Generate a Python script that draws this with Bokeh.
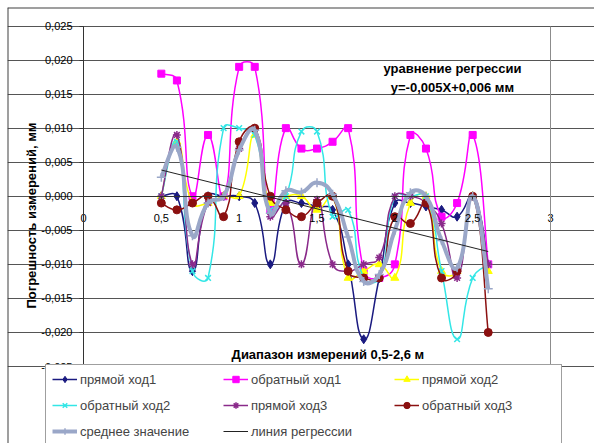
from bokeh.plotting import figure
from bokeh.models import (FixedTicker, CustomJSTickFormatter, Label, Legend,
                          LegendItem, ColumnDataSource, Range1d, LinearAxis)
from bokeh.embed import file_html
from bokeh.resources import INLINE

# ---------------- data ----------------
x_values = [0.5, 0.6, 0.7, 0.8, 0.9, 1.0, 1.1, 1.2, 1.3, 1.4, 1.5,
            1.6, 1.7, 1.8, 1.9, 2.0, 2.1, 2.2, 2.3, 2.4, 2.5, 2.6]

forward_1 = [0.000, 0.000, -0.011, 0.000, 0.000, 0.000, -0.001, -0.010, -0.001, -0.001, -0.0015,
             -0.002, -0.010, -0.021, -0.012, -0.001, -0.001, -0.0015, -0.002, -0.003, 0.000, -0.010]
backward_1 = [0.018, 0.017, 0.000, 0.009, 0.000, 0.019, 0.019, -0.002, 0.010, 0.007, 0.007,
              0.008, 0.010, -0.011, -0.012, -0.010, 0.009, 0.007, -0.003, -0.001, 0.009, -0.010]
forward_2 = [0.000, 0.008, -0.001, -0.001, 0.000, 0.000, 0.009, -0.001, 0.000, 0.000, -0.002,
             0.000, -0.012, -0.011, -0.010, -0.012, -0.001, 0.000, -0.011, -0.011, 0.000, -0.011]
backward_2 = [0.000, 0.008, -0.011, -0.012, 0.010, 0.010, 0.009, -0.002, 0.000, 0.0095, 0.0095,
              -0.003, -0.002, -0.012, -0.012, 0.000, 0.000, 0.000, -0.011, -0.021, -0.012, -0.010]
forward_3 = [0.000, 0.009, -0.010, -0.001, 0.000, 0.007, 0.010, -0.003, -0.001, -0.010, -0.0005,
             -0.010, -0.011, -0.010, -0.009, 0.000, 0.000, -0.001, -0.004, -0.012, 0.000, -0.010]
backward_3 = [-0.001, -0.002, -0.001, 0.000, -0.003, 0.008, 0.010, 0.000, -0.002, -0.003, -0.001,
              0.000, -0.011, -0.012, -0.012, -0.003, -0.004, -0.001, -0.012, -0.011, 0.000, -0.020]
mean_values = [0.0028, 0.0072, -0.0058, -0.0010, 0.0000, 0.0068, 0.0097, -0.0025, 0.0008, 0.0006, 0.0020,
               0.0003, -0.0060, -0.0125, -0.0115, -0.0050, 0.0005, 0.0000, -0.0065, -0.0105, 0.0000, -0.0136]

reg_slope = -0.0057
reg_intercept = 0.0067

x_ticks = [0, 0.5, 1, 1.5, 2, 2.5, 3]
y_ticks = [-0.025, -0.020, -0.015, -0.010, -0.005, 0.0, 0.005, 0.010, 0.015, 0.020, 0.025]

series_names = ["прямой ход1", "обратный ход1", "прямой ход2", "обратный ход2",
                "прямой ход3", "обратный ход3", "среднее значение"]
regression_name = "линия регрессии"
equation_lines = ["уравнение регрессии", "у=-0,005X+0,006 мм"]
x_title = "Диапазон измерений 0,5-2,6 м"
y_title = "Погрешность измерений, мм"

# ---------------- geometry / style ----------------
W, H = 594, 443
FRAME_LEFT, FRAME_TOP = 7, 7
PX_X = 155.67      # pixels per x unit (axis 0..3 over 467 px)
PX_Y = 6810.0      # pixels per y unit
X0_PX, Y0_PX = 83.0, 195.75   # position of data origin inside the canvas
FONT = "Liberation Sans"
TENSION = 0.5


def smooth_segments(xs, ys):
    """Excel-like smoothed line as cubic Bezier segments (screen-length weighted tangents)."""
    n = len(xs)

    def dist(i, j):
        return (((xs[j] - xs[i]) * PX_X) ** 2 + ((ys[j] - ys[i]) * PX_Y) ** 2) ** 0.5

    d = [dist(i, i + 1) for i in range(n - 1)]
    out = dict(x0=[], y0=[], x1=[], y1=[], cx0=[], cy0=[], cx1=[], cy1=[])
    for i in range(n - 1):
        j = i + 1
        if i == 0:
            tx0, ty0, w0 = xs[1] - xs[0], ys[1] - ys[0], 0.5
        else:
            tx0, ty0 = xs[i + 1] - xs[i - 1], ys[i + 1] - ys[i - 1]
            w0 = d[i] / (d[i - 1] + d[i]) if (d[i - 1] + d[i]) > 0 else 0.5
        if j == n - 1:
            tx1, ty1, w1 = xs[j] - xs[j - 1], ys[j] - ys[j - 1], 0.5
        else:
            tx1, ty1 = xs[j + 1] - xs[j - 1], ys[j + 1] - ys[j - 1]
            w1 = d[i] / (d[i] + d[j]) if (d[i] + d[j]) > 0 else 0.5
        out["x0"].append(xs[i]); out["y0"].append(ys[i])
        out["x1"].append(xs[j]); out["y1"].append(ys[j])
        out["cx0"].append(xs[i] + tx0 * TENSION * w0)
        out["cy0"].append(ys[i] + ty0 * TENSION * w0)
        out["cx1"].append(xs[j] - tx1 * TENSION * w1)
        out["cy1"].append(ys[j] - ty1 * TENSION * w1)
    return ColumnDataSource(out)


x_start = (FRAME_LEFT - X0_PX) / PX_X
x_end = (W - X0_PX) / PX_X
y_end = (Y0_PX - FRAME_TOP) / PX_Y
y_start = -(H - Y0_PX) / PX_Y

p = figure(width=W, height=H, output_backend="svg", toolbar_location=None,
           x_range=Range1d(x_start, x_end), y_range=Range1d(y_start, y_end),
           x_axis_location=None, y_axis_location=None,
           min_border_left=FRAME_LEFT, min_border_top=FRAME_TOP,
           min_border_right=0, min_border_bottom=0)
p.background_fill_color = "white"
p.border_fill_color = "white"
p.outline_line_color = None
p.xgrid.visible = False


def border_axis(loc):
    return LinearAxis(fixed_location=loc, ticker=FixedTicker(ticks=[]),
                      major_label_text_font_size="0px", minor_tick_line_color=None,
                      major_tick_line_color=None, axis_line_color="#404040",
                      axis_line_width=2)


# outer chart border (top and left edges)
p.add_layout(border_axis(y_end), "above")
p.add_layout(border_axis(x_start), "left")

# axes fixed at the origin
xaxis = LinearAxis(fixed_location=0, bounds=(0, 3), ticker=FixedTicker(ticks=x_ticks),
                   formatter=CustomJSTickFormatter(
                       code="return (Math.round(tick*10)/10).toString().replace('.', ',');"),
                   major_label_text_font=FONT, major_label_text_font_size="11px",
                   major_label_text_color="black", minor_tick_line_color=None,
                   major_tick_in=0, major_tick_out=3, major_label_standoff=15,
                   axis_line_color="#333333", major_tick_line_color="#333333")
p.add_layout(xaxis, "below")

yaxis = LinearAxis(fixed_location=0, bounds=(-0.025, 0.025), ticker=FixedTicker(ticks=y_ticks),
                   formatter=CustomJSTickFormatter(code="return tick.toFixed(3).replace('.', ',');"),
                   major_label_text_font=FONT, major_label_text_font_size="11px",
                   major_label_text_color="black", minor_tick_line_color=None,
                   major_tick_in=0, major_tick_out=4, major_label_standoff=7,
                   axis_line_color="#333333", major_tick_line_color="#333333")
p.add_layout(yaxis, "left")

# right edge of the plot area
right_edge = LinearAxis(fixed_location=3, bounds=(-0.025, 0.025), ticker=FixedTicker(ticks=[]),
                        major_label_text_font_size="0px", minor_tick_line_color=None,
                        major_tick_line_color=None, axis_line_color="#8c8c8c")
p.add_layout(right_edge, "right")

p.ygrid.ticker = FixedTicker(ticks=y_ticks)
p.ygrid.bounds = (0, 3)
p.ygrid.grid_line_color = "#555555"
p.ygrid.grid_line_width = 1

# series
styles = [
    (forward_1, "#1a1a80", "diamond", 9, 1.5),
    (backward_1, "#ff00ff", "square", 7, 1.5),
    (forward_2, "#ffff00", "triangle", 8, 1.5),
    (backward_2, "#33e6e6", "x", 8, 1.5),
    (forward_3, "#8a2a8a", "asterisk", 8, 1.5),
    (backward_3, "#8b1010", "circle", 8, 1.5),
    (mean_values, "#9aa7c8", "cross", 9, 4),
]

items = []
for (vals, color, marker, size, lw), name in zip(styles, series_names):
    src = smooth_segments(x_values, vals)
    br = p.bezier(x0="x0", y0="y0", x1="x1", y1="y1", cx0="cx0", cy0="cy0",
                  cx1="cx1", cy1="cy1", source=src, line_color=color, line_width=lw)
    sr = p.scatter(x_values, vals, marker=marker, size=size, fill_color=color,
                   line_color=color, line_width=1.5 if marker in ("x", "asterisk", "cross") else 1)
    items.append(LegendItem(label=name, renderers=[br, sr]))

reg_x = [x_values[0], x_values[-1]]
reg_y = [reg_intercept + reg_slope * v for v in reg_x]
rr = p.line(reg_x, reg_y, line_color="#222222", line_width=1)
items.append(LegendItem(label=regression_name, renderers=[rr]))


def add_text(x, y, text, angle=0.0):
    p.add_layout(Label(x=x, y=y, text=text, text_font=FONT, text_font_size="13px",
                       text_font_style="bold", text_align="center", text_baseline="middle",
                       angle=angle, text_color="black"))


add_text(2.37, 0.01878, equation_lines[0])
add_text(2.37, 0.01603, equation_lines[1])
add_text(1.57, -0.02328, x_title)
add_text(-0.334, -0.00284, y_title, angle=1.5707963)

legend = Legend(items=items, location=(38, -3), orientation="horizontal", ncols=3,
                padding=6, spacing=10, margin=0, glyph_width=25, glyph_height=16,
                label_height=16, label_width=133, label_standoff=3,
                label_text_font=FONT, label_text_font_size="13px",
                border_line_color="#404040", border_line_width=1,
                background_fill_color="white", background_fill_alpha=1)
p.add_layout(legend)

open("out.html", "w").write(file_html(p, INLINE))
